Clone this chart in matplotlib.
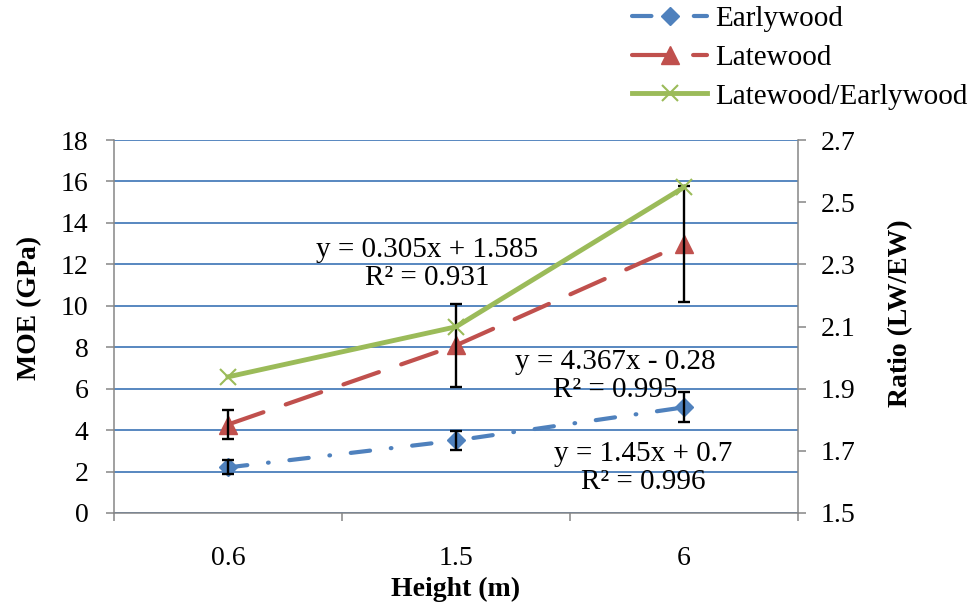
import matplotlib
matplotlib.use("Agg")
import matplotlib.pyplot as plt
import numpy as np

# Sampling heights (categories)
heights = ["0.6", "1.5", "6"]

# Modulus of elasticity (GPa) with standard deviations
earlywood_moe = [2.2, 3.5, 5.1]
earlywood_sd = [0.34, 0.47, 0.72]
latewood_moe = [4.27, 8.09, 13.0]
latewood_sd = [0.72, 2.0, 2.8]

# Latewood / earlywood MOE ratio (right axis)
ratio_lw_ew = [1.938, 2.099, 2.548]

# Linear trendline annotations
eq_ratio = "y = 0.305x + 1.585\nR² = 0.931"
eq_latewood = "y = 4.367x - 0.28\nR² = 0.995"
eq_earlywood = "y = 1.45x + 0.7\nR² = 0.996"

plt.rcParams["font.family"] = ["Liberation Serif", "DejaVu Serif"]
plt.rcParams["font.size"] = 20
plt.rcParams["lines.scale_dashes"] = False

BLUE = "#4f81bd"
RED = "#c0504d"
GREEN = "#9bbb59"
GRID = "#4a7ebb"
SPINE = "#868686"
TEXT_SIZE = 21

fig = plt.figure(figsize=(9.72, 6.11), dpi=100)
ax = fig.add_axes([114 / 972, 1 - 513 / 611, 684 / 972, 373 / 611])
ax2 = ax.twinx()

x = np.arange(len(heights))

# Left axis: MOE
ax.set_xlim(-0.5, len(heights) - 0.5)
ax.set_ylim(0, 18)
ax.set_yticks(np.arange(0, 19, 2))
ax.yaxis.grid(True, color=GRID, lw=1.3)
ax.set_axisbelow(True)

ax.set_xticks(np.arange(-0.5, len(heights), 1.0))
ax.set_xticklabels([])
ax.set_xticks(x, minor=True)
ax.set_xticklabels(heights, minor=True)
ax.tick_params(axis="x", which="major", direction="out", length=5.5, width=1.1, color=SPINE)
ax.tick_params(axis="x", which="minor", length=0, pad=24)
ax.tick_params(axis="y", direction="out", length=5.5, width=1.1, color=SPINE, pad=13)

for side in ("top", "right"):
    ax.spines[side].set_visible(False)
for side in ("left", "bottom"):
    ax.spines[side].set_color(SPINE)
    ax.spines[side].set_linewidth(1.1)

# Right axis: ratio
ax2.set_ylim(1.5, 2.7)
ax2.set_yticks(np.round(np.arange(1.5, 2.71, 0.2), 1))
ax2.set_yticklabels([f"{v:.1f}" for v in np.arange(1.5, 2.71, 0.2)])
ax2.tick_params(axis="y", direction="out", length=5.5, width=1.1, color=SPINE, pad=11)
for side in ("top", "left", "bottom"):
    ax2.spines[side].set_visible(False)
ax2.spines["right"].set_color(SPINE)
ax2.spines["right"].set_linewidth(1.1)

# Series
l_ew, = ax.plot(x, earlywood_moe, color=BLUE, lw=3, linestyle=(0, (14, 15, 0.5, 15)),
                dash_capstyle="round", marker="D", ms=9.5, mfc=BLUE, mec=BLUE, zorder=3)
l_lw, = ax.plot(x, latewood_moe, color=RED, lw=3, linestyle=(0, (27, 17)),
                dash_capstyle="round", marker="^", ms=13, mfc=RED, mec=RED, zorder=3)
ax.errorbar(x, earlywood_moe, yerr=earlywood_sd, fmt="none", ecolor="black",
            elinewidth=1.7, capsize=4.5, capthick=1.7, zorder=4)
ax.errorbar(x, latewood_moe, yerr=latewood_sd, fmt="none", ecolor="black",
            elinewidth=1.7, capsize=4.5, capthick=1.7, zorder=4)
l_ratio, = ax2.plot(x, ratio_lw_ew, color=GREEN, lw=3.5, marker="x", ms=11, mew=1.5,
                    mec=GREEN, zorder=3)

# Trendline equations
ax.text(0.873, 12.02, eq_ratio, ha="center", va="center", linespacing=1.1,
        fontsize=TEXT_SIZE, zorder=5)
ax.text(1.697, 6.61, eq_latewood, ha="center", va="center", linespacing=1.1,
        fontsize=TEXT_SIZE, zorder=5)
ax.text(1.82, 2.17, eq_earlywood, ha="center", va="center", linespacing=1.1,
        fontsize=TEXT_SIZE, zorder=5)

# Axis titles
ax.set_xlabel("Height (m)", fontweight="bold")
ax.xaxis.set_label_coords(0.5, -0.17)
ax.set_ylabel("MOE (GPa)", fontweight="bold")
ax.yaxis.set_label_coords(-0.105, 0.55)
ax2.set_ylabel("Ratio (LW/EW)", fontweight="bold")
ax2.yaxis.set_label_coords(1.1316, 0.536)

fig.legend([l_ew, l_lw, l_ratio], ["Earlywood", "Latewood", "Latewood/Earlywood"],
           loc="upper right", bbox_to_anchor=(970 / 972, 1 - 3 / 611), frameon=False,
           fontsize=TEXT_SIZE, handlelength=2.6, handletextpad=0.25, labelspacing=0.42,
           borderaxespad=0, borderpad=0.1)

fig.savefig("out.png", dpi=100)
